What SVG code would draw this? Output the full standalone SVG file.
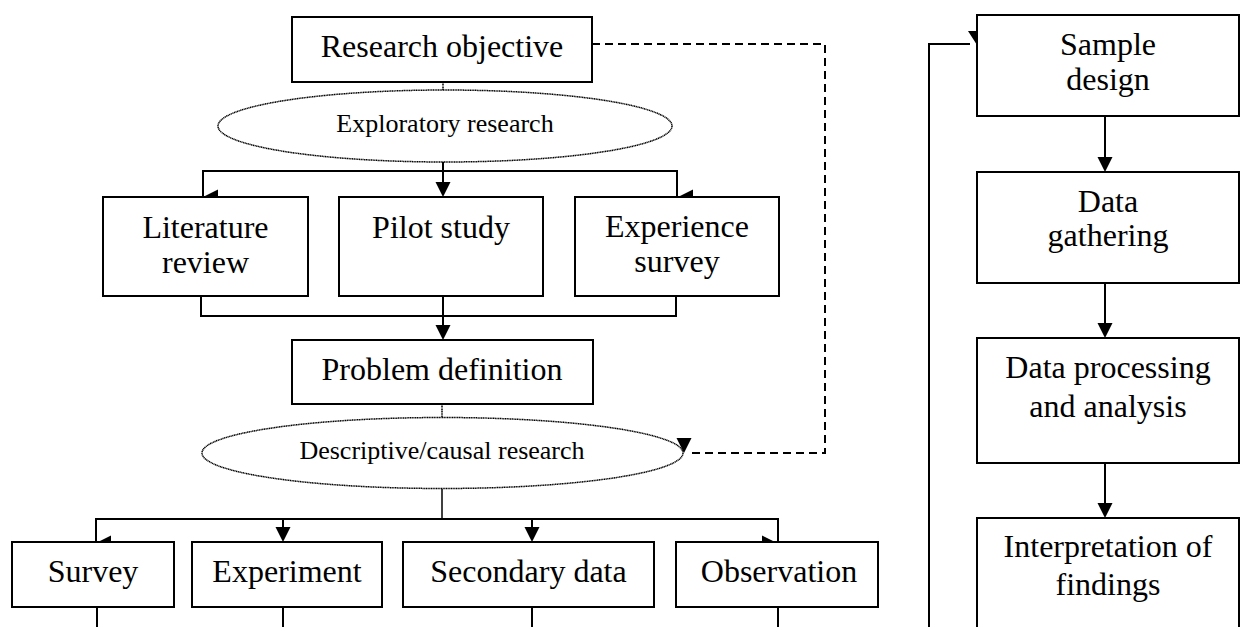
<svg xmlns="http://www.w3.org/2000/svg" width="1240" height="627" viewBox="0 0 1240 627">
<style>
  .box { fill: #fff; stroke: #000; stroke-width: 2; }
  .ell { fill: #fff; stroke: #000; stroke-width: 1.5; stroke-dasharray: 1.2 0.5; }
  .t { font-family: "Liberation Serif", "Times New Roman", serif; font-size: 32px; fill: #000; text-anchor: middle; }
  .ts { font-family: "Liberation Serif", "Times New Roman", serif; font-size: 26px; fill: #000; text-anchor: middle; }
  .ln { fill: none; stroke: #000; stroke-width: 2; }
  .thin { fill: none; stroke: #000; stroke-width: 1.5; stroke-dasharray: 1.2 0.5; }
  .dash { fill: none; stroke: #000; stroke-width: 2; stroke-dasharray: 8 5; }
  .ah { fill: #000; stroke: none; }
</style>
<rect width="1240" height="627" fill="#fff"/>

<g id="connectors">
  <line class="thin" x1="443" y1="82" x2="443" y2="90"/>
  <path class="ln" d="M443 162 V186"/>
  <path class="ln" d="M203 197 V171 H677 V197"/>
  <polygon class="ah" points="435.5,182 450.5,182 443,197"/>
  <polygon class="ah" points="203,197 218,189.5 218,204.5"/>
  <polygon class="ah" points="678,197 693,189.5 693,204.5"/>
  <path class="ln" d="M201 296 V316 H676 V296"/>
  <path class="ln" d="M443 296 V328"/>
  <polygon class="ah" points="435.5,325 450.5,325 443,340"/>
  <line class="thin" x1="442" y1="404" x2="442" y2="417"/>
  <line class="ln" x1="442" y1="489" x2="442" y2="519" style="stroke-width:1.5"/>
  <path class="ln" d="M96 543 V519 H778 V543"/>
  <path class="ln" d="M283 519 V530"/>
  <path class="ln" d="M532 519 V530"/>
  <polygon class="ah" points="96,543 111,535.5 111,550.5"/>
  <polygon class="ah" points="275.5,527 290.5,527 283,542"/>
  <polygon class="ah" points="524.5,527 539.5,527 532,542"/>
  <polygon class="ah" points="762,535.5 762,550.5 777,543"/>
  <line class="ln" x1="97" y1="607" x2="97" y2="627"/>
  <line class="ln" x1="283" y1="607" x2="283" y2="627"/>
  <line class="ln" x1="532" y1="607" x2="532" y2="627"/>
  <line class="ln" x1="778" y1="607" x2="778" y2="627"/>
  <path class="dash" d="M592 44 H825 V453 H688"/>
  <polygon class="ah" points="676.5,438 691.5,438 684,453"/>
  <path class="ln" d="M929 627 V44 H970"/>
  <polygon class="ah" points="968,31 977,31 977,45"/>
  <line class="ln" x1="1105" y1="116" x2="1105" y2="160"/>
  <polygon class="ah" points="1097.5,157 1112.5,157 1105,172"/>
  <line class="ln" x1="1105" y1="283" x2="1105" y2="326"/>
  <polygon class="ah" points="1097.5,323 1112.5,323 1105,338"/>
  <line class="ln" x1="1105" y1="463" x2="1105" y2="506"/>
  <polygon class="ah" points="1097.5,503 1112.5,503 1105,518"/>
</g>

<g id="research-objective">
  <rect class="box" x="292" y="17" width="300" height="65"/>
  <text class="t" x="442" y="57">Research objective</text>
</g>
<g id="exploratory-research">
  <ellipse class="ell" cx="445" cy="126" rx="227" ry="36"/>
  <text class="ts" x="445" y="132">Exploratory research</text>
</g>
<g id="literature-review">
  <rect class="box" x="103" y="197" width="205" height="99"/>
  <text class="t" x="205.5" y="238">Literature</text>
  <text class="t" x="205.5" y="273">review</text>
</g>
<g id="pilot-study">
  <rect class="box" x="339" y="197" width="204" height="99"/>
  <text class="t" x="441" y="238">Pilot study</text>
</g>
<g id="experience-survey">
  <rect class="box" x="575" y="197" width="204" height="99"/>
  <text class="t" x="677" y="237">Experience</text>
  <text class="t" x="677" y="272">survey</text>
</g>
<g id="problem-definition">
  <rect class="box" x="292" y="340" width="301" height="64"/>
  <text class="t" x="442" y="380">Problem definition</text>
</g>
<g id="descriptive-causal-research">
  <ellipse class="ell" cx="442.5" cy="453" rx="240.5" ry="35.5"/>
  <text class="ts" x="442" y="459">Descriptive/causal research</text>
</g>
<g id="survey">
  <rect class="box" x="12" y="542" width="162" height="65"/>
  <text class="t" x="93" y="582">Survey</text>
</g>
<g id="experiment">
  <rect class="box" x="192" y="542" width="190" height="65"/>
  <text class="t" x="287" y="582">Experiment</text>
</g>
<g id="secondary-data">
  <rect class="box" x="403" y="542" width="251" height="65"/>
  <text class="t" x="528.5" y="582">Secondary data</text>
</g>
<g id="observation">
  <rect class="box" x="676" y="542" width="202" height="65"/>
  <text class="t" x="779" y="582">Observation</text>
</g>
<g id="sample-design">
  <rect class="box" x="977" y="15" width="262" height="101"/>
  <text class="t" x="1108" y="55">Sample</text>
  <text class="t" x="1108" y="90">design</text>
</g>
<g id="data-gathering">
  <rect class="box" x="977" y="172" width="262" height="111"/>
  <text class="t" x="1108" y="212">Data</text>
  <text class="t" x="1108" y="246">gathering</text>
</g>
<g id="data-processing">
  <rect class="box" x="977" y="338" width="262" height="125"/>
  <text class="t" x="1108" y="378">Data processing</text>
  <text class="t" x="1108" y="417">and analysis</text>
</g>
<g id="interpretation">
  <path class="box" d="M977 640 V518 H1239 V640"/>
  <text class="t" x="1108" y="557">Interpretation of</text>
  <text class="t" x="1108" y="595">findings</text>
</g>
</svg>
